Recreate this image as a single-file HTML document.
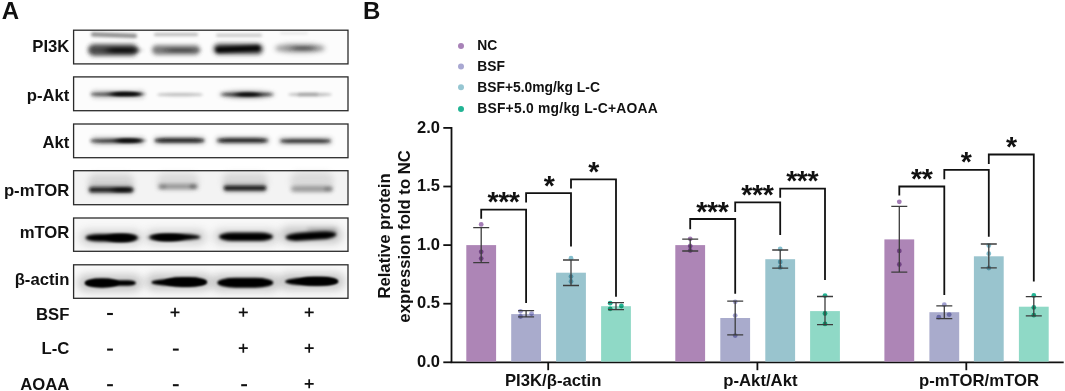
<!DOCTYPE html><html><head><meta charset="utf-8"><style>html,body{margin:0;padding:0;background:#fff}svg{display:block}text{font-family:"Liberation Sans",sans-serif;font-weight:bold;fill:#111}</style></head><body>
<svg width="1065" height="391" viewBox="0 0 1065 391">
<defs>
<filter id="b1" x="-30%" y="-200%" width="160%" height="500%"><feGaussianBlur stdDeviation="1.0"/></filter>
<filter id="b15" x="-30%" y="-200%" width="160%" height="500%"><feGaussianBlur stdDeviation="1.5"/></filter>
<filter id="b2" x="-30%" y="-200%" width="160%" height="500%"><feGaussianBlur stdDeviation="2.0"/></filter>
<filter id="b25" x="-30%" y="-200%" width="160%" height="500%"><feGaussianBlur stdDeviation="2.5"/></filter>
<filter id="b3" x="-30%" y="-200%" width="160%" height="500%"><feGaussianBlur stdDeviation="3.0"/></filter>
<filter id="b4" x="-30%" y="-200%" width="160%" height="500%"><feGaussianBlur stdDeviation="4.0"/></filter>
<filter id="b6" x="-30%" y="-200%" width="160%" height="500%"><feGaussianBlur stdDeviation="6.0"/></filter>
<filter id="c4" x="-50%" y="-200%" width="200%" height="500%"><feGaussianBlur stdDeviation="4 1.4"/></filter>
<filter id="c6" x="-50%" y="-200%" width="200%" height="500%"><feGaussianBlur stdDeviation="6 1.4"/></filter>
<filter id="c3" x="-50%" y="-200%" width="200%" height="500%"><feGaussianBlur stdDeviation="3 1.0"/></filter>
<filter id="soft" x="-5%" y="-5%" width="110%" height="110%"><feGaussianBlur stdDeviation="0.45"/></filter>
</defs>
<rect width="1065" height="391" fill="#fff"/>
<text x="1.7" y="18.6" font-size="24">A</text>
<text x="363" y="18.6" font-size="24">B</text>
<text x="69.4" y="52.4" font-size="16.7" text-anchor="end">PI3K</text>
<text x="69.4" y="100.7" font-size="16.7" text-anchor="end">p-Akt</text>
<text x="69.4" y="148.0" font-size="16.7" text-anchor="end">Akt</text>
<text x="69.4" y="195.8" font-size="16.7" text-anchor="end">p-mTOR</text>
<text x="69.4" y="238.0" font-size="16.7" text-anchor="end">mTOR</text>
<text x="69.4" y="284.5" font-size="16.7" text-anchor="end">β-actin</text>
<text x="69.4" y="319.8" font-size="16.7" text-anchor="end">BSF</text>
<text x="69.4" y="354.0" font-size="16.7" text-anchor="end">L-C</text>
<text x="69.4" y="389.7" font-size="16.7" text-anchor="end">AOAA</text>
<clipPath id="c0"><rect x="73.6" y="30.2" width="274.4" height="33.7"/></clipPath>
<g clip-path="url(#c0)">
<rect x="73.6" y="30.2" width="274.4" height="33.7" fill="#fcfcfc"/>
<rect x="88.0" y="44.2" width="50.0" height="11.5" rx="5.8" ry="5.8" fill="#2a2a2a" opacity="0.85" filter="url(#b2)"/>
<rect x="107.0" y="47.8" width="30.0" height="5.0" rx="2.5" ry="2.5" fill="#000" opacity="0.75" filter="url(#c4)"/>
<rect x="91.0" y="33.1" width="46.0" height="4.2" rx="2.1" ry="2.1" fill="#444" opacity="0.62" filter="url(#b15)" transform="rotate(2 114 35.2)"/>
<rect x="152.0" y="45.2" width="48.0" height="9.5" rx="4.8" ry="4.8" fill="#4a4a4a" opacity="0.72" filter="url(#b2)"/>
<rect x="166.0" y="48.5" width="30.0" height="3.5" rx="1.8" ry="1.8" fill="#111" opacity="0.45" filter="url(#c4)"/>
<rect x="154.0" y="33.0" width="44.0" height="3.0" rx="1.5" ry="1.5" fill="#666" opacity="0.45" filter="url(#b15)"/>
<rect x="213.2" y="43.5" width="50.0" height="11.0" rx="5.5" ry="5.5" fill="#333" opacity="0.8" filter="url(#b2)"/>
<rect x="216.0" y="46.2" width="44.0" height="5.5" rx="2.8" ry="2.8" fill="#000" opacity="0.95" filter="url(#b15)" transform="rotate(-2 238 49)"/>
<rect x="216.0" y="33.7" width="46.0" height="3.0" rx="1.5" ry="1.5" fill="#777" opacity="0.4" filter="url(#b15)"/>
<rect x="275.0" y="44.1" width="50.0" height="8.5" rx="20.0" ry="4.2" fill="#555" opacity="0.6" filter="url(#b25)"/>
<rect x="292.0" y="46.0" width="22.0" height="4.5" rx="2.2" ry="2.2" fill="#222" opacity="0.5" filter="url(#c4)"/>
<rect x="280.0" y="32.3" width="28.0" height="2.0" rx="1.0" ry="1.0" fill="#999" opacity="0.25" filter="url(#b15)"/>
</g>
<rect x="73.6" y="30.2" width="274.4" height="33.7" fill="none" stroke="#2a2a2a" stroke-width="1.3" filter="url(#soft)"/>
<clipPath id="c1"><rect x="73.6" y="76.9" width="274.4" height="33.8"/></clipPath>
<g clip-path="url(#c1)">
<rect x="73.6" y="76.9" width="274.4" height="33.8" fill="#fcfcfc"/>
<rect x="91.0" y="90.3" width="54.0" height="8.0" rx="4.0" ry="4.0" fill="#666" opacity="0.35" filter="url(#b2)"/>
<rect x="90.5" y="92.6" width="51.0" height="3.4" rx="20.0" ry="1.7" fill="#222" opacity="0.75" filter="url(#b15)"/>
<rect x="110.0" y="91.8" width="32.0" height="4.5" rx="12.0" ry="2.2" fill="#000" opacity="0.9" filter="url(#c3)"/>
<rect x="157.0" y="93.1" width="46.0" height="3.2" rx="15.0" ry="1.6" fill="#666" opacity="0.42" filter="url(#b15)"/>
<rect x="219.0" y="90.2" width="56.0" height="8.5" rx="25.0" ry="4.2" fill="#555" opacity="0.4" filter="url(#b2)"/>
<rect x="221.0" y="92.5" width="52.0" height="4.0" rx="22.0" ry="2.0" fill="#222" opacity="0.75" filter="url(#b15)"/>
<rect x="235.0" y="92.5" width="26.0" height="4.0" rx="12.0" ry="2.0" fill="#000" opacity="0.85" filter="url(#c3)"/>
<rect x="288.0" y="92.8" width="44.0" height="3.5" rx="18.0" ry="1.8" fill="#555" opacity="0.38" filter="url(#b15)"/>
<rect x="298.0" y="93.2" width="20.0" height="2.5" rx="1.2" ry="1.2" fill="#444" opacity="0.3" filter="url(#b15)"/>
</g>
<rect x="73.6" y="76.9" width="274.4" height="33.8" fill="none" stroke="#2a2a2a" stroke-width="1.3" filter="url(#soft)"/>
<clipPath id="c2"><rect x="73.6" y="124.0" width="274.4" height="33.69999999999999"/></clipPath>
<g clip-path="url(#c2)">
<rect x="73.6" y="124.0" width="274.4" height="33.69999999999999" fill="#fcfcfc"/>
<rect x="91.0" y="136.8" width="54.0" height="8.0" rx="4.0" ry="4.0" fill="#555" opacity="0.35" filter="url(#b2)"/>
<rect x="90.0" y="138.9" width="52.0" height="3.8" rx="20.0" ry="1.9" fill="#1a1a1a" opacity="0.8" filter="url(#b15)"/>
<rect x="115.0" y="138.3" width="28.0" height="4.5" rx="10.0" ry="2.2" fill="#000" opacity="0.85" filter="url(#c3)"/>
<rect x="153.5" y="136.5" width="52.0" height="8.0" rx="4.0" ry="4.0" fill="#555" opacity="0.35" filter="url(#b2)"/>
<rect x="154.5" y="138.3" width="50.0" height="4.2" rx="12.0" ry="2.1" fill="#0a0a0a" opacity="0.9" filter="url(#b15)"/>
<rect x="215.5" y="136.5" width="54.0" height="8.0" rx="4.0" ry="4.0" fill="#555" opacity="0.35" filter="url(#b2)"/>
<rect x="217.0" y="138.3" width="51.0" height="4.2" rx="12.0" ry="2.1" fill="#111" opacity="0.9" filter="url(#b15)"/>
<rect x="278.5" y="137.0" width="54.0" height="8.0" rx="4.0" ry="4.0" fill="#555" opacity="0.3" filter="url(#b2)"/>
<rect x="280.0" y="139.0" width="51.0" height="4.0" rx="12.0" ry="2.0" fill="#1a1a1a" opacity="0.82" filter="url(#b15)"/>
</g>
<rect x="73.6" y="124.0" width="274.4" height="33.69999999999999" fill="none" stroke="#2a2a2a" stroke-width="1.3" filter="url(#soft)"/>
<clipPath id="c3"><rect x="73.6" y="170.7" width="274.4" height="34.0"/></clipPath>
<g clip-path="url(#c3)">
<rect x="73.6" y="170.7" width="274.4" height="34.0" fill="#f3f3f3"/>
<rect x="88.0" y="174.0" width="46.0" height="16.0" rx="8.0" ry="8.0" fill="#888" opacity="0.28" filter="url(#b3)"/>
<rect x="88.0" y="185.8" width="46.0" height="8.0" rx="4.0" ry="4.0" fill="#444" opacity="0.5" filter="url(#b2)"/>
<rect x="89.5" y="187.6" width="43.0" height="4.5" rx="2.2" ry="2.2" fill="#111" opacity="0.85" filter="url(#b15)"/>
<rect x="113.0" y="187.8" width="18.0" height="4.5" rx="2.2" ry="2.2" fill="#000" opacity="0.6" filter="url(#c3)"/>
<rect x="157.0" y="173.0" width="42.0" height="16.0" rx="8.0" ry="8.0" fill="#888" opacity="0.22" filter="url(#b3)"/>
<rect x="158.0" y="184.3" width="40.0" height="4.8" rx="2.4" ry="2.4" fill="#555" opacity="0.62" filter="url(#b2)"/>
<rect x="189.5" y="184.5" width="7.0" height="4.0" rx="2.0" ry="2.0" fill="#333" opacity="0.4" filter="url(#b15)"/>
<rect x="159.5" y="184.7" width="7.0" height="4.0" rx="2.0" ry="2.0" fill="#444" opacity="0.25" filter="url(#b15)"/>
<rect x="222.0" y="173.0" width="46.0" height="16.0" rx="8.0" ry="8.0" fill="#888" opacity="0.25" filter="url(#b3)"/>
<rect x="223.0" y="184.1" width="44.0" height="8.0" rx="4.0" ry="4.0" fill="#444" opacity="0.45" filter="url(#b2)"/>
<rect x="224.0" y="186.0" width="42.0" height="4.2" rx="2.1" ry="2.1" fill="#0a0a0a" opacity="0.9" filter="url(#b15)"/>
<rect x="290.0" y="172.0" width="44.0" height="18.0" rx="9.0" ry="9.0" fill="#888" opacity="0.22" filter="url(#b3)"/>
<rect x="291.0" y="186.6" width="42.0" height="4.8" rx="2.4" ry="2.4" fill="#555" opacity="0.62" filter="url(#b2)"/>
<rect x="324.0" y="187.0" width="8.0" height="4.0" rx="2.0" ry="2.0" fill="#444" opacity="0.3" filter="url(#b15)"/>
</g>
<rect x="73.6" y="170.7" width="274.4" height="34.0" fill="none" stroke="#2a2a2a" stroke-width="1.3" filter="url(#soft)"/>
<clipPath id="c4"><rect x="73.6" y="218.0" width="274.4" height="33.30000000000001"/></clipPath>
<g clip-path="url(#c4)">
<rect x="73.6" y="218.0" width="274.4" height="33.30000000000001" fill="#f8f8f8"/>
<rect x="80.0" y="230.5" width="62.0" height="14.0" rx="7.0" ry="7.0" fill="#777" opacity="0.33" filter="url(#b4)"/>
<rect x="85.5" y="233.9" width="52.0" height="7.6" rx="14.0" ry="3.8" fill="#000" opacity="1.0" filter="url(#b15)"/>
<rect x="106.0" y="233.8" width="30.0" height="8.4" rx="12.0" ry="4.2" fill="#000" opacity="0.9" filter="url(#c3)"/>
<rect x="146.0" y="230.0" width="60.0" height="14.0" rx="7.0" ry="7.0" fill="#777" opacity="0.33" filter="url(#b4)"/>
<rect x="149.5" y="234.0" width="51.0" height="6.0" rx="18.0" ry="3.0" fill="#000" opacity="1.0" filter="url(#b15)"/>
<rect x="151.0" y="233.7" width="34.0" height="7.8" rx="12.0" ry="3.9" fill="#000" opacity="0.95" filter="url(#c3)"/>
<rect x="214.0" y="229.8" width="64.0" height="14.0" rx="7.0" ry="7.0" fill="#777" opacity="0.33" filter="url(#b4)"/>
<rect x="219.0" y="232.6" width="54.0" height="8.4" rx="14.0" ry="4.2" fill="#000" opacity="1.0" filter="url(#b15)"/>
<rect x="280.0" y="227.0" width="62.0" height="16.0" rx="8.0" ry="8.0" fill="#666" opacity="0.36" filter="url(#b4)"/>
<rect x="307.0" y="228.0" width="30.0" height="5.0" rx="2.5" ry="2.5" fill="#555" opacity="0.35" filter="url(#b2)"/>
<rect x="285.5" y="231.9" width="51.0" height="8.2" rx="16.0" ry="4.1" fill="#000" opacity="1.0" filter="url(#b15)" transform="rotate(-3.5 311 236)"/>
</g>
<rect x="73.6" y="218.0" width="274.4" height="33.30000000000001" fill="none" stroke="#2a2a2a" stroke-width="1.3" filter="url(#soft)"/>
<clipPath id="c5"><rect x="73.6" y="264.8" width="274.4" height="33.5"/></clipPath>
<g clip-path="url(#c5)">
<rect x="73.6" y="264.8" width="274.4" height="33.5" fill="#f9f9f9"/>
<rect x="78.0" y="275.0" width="64.0" height="16.0" rx="8.0" ry="8.0" fill="#666" opacity="0.36" filter="url(#b4)"/>
<rect x="85.0" y="280.2" width="51.0" height="5.5" rx="8.0" ry="2.8" fill="#000" opacity="1.0" filter="url(#b1)"/>
<rect x="85.0" y="278.3" width="34.0" height="9.4" rx="16.0" ry="4.7" fill="#000" opacity="1.0" filter="url(#b1)"/>
<rect x="146.0" y="274.0" width="66.0" height="16.0" rx="8.0" ry="8.0" fill="#666" opacity="0.36" filter="url(#b4)"/>
<rect x="151.5" y="279.1" width="55.0" height="6.5" rx="20.0" ry="3.2" fill="#000" opacity="1.0" filter="url(#b1)"/>
<rect x="164.0" y="277.1" width="43.0" height="9.8" rx="18.0" ry="4.9" fill="#000" opacity="1.0" filter="url(#b1)"/>
<rect x="211.5" y="274.7" width="68.0" height="16.0" rx="8.0" ry="8.0" fill="#666" opacity="0.36" filter="url(#b4)"/>
<rect x="217.3" y="277.7" width="56.0" height="10.0" rx="18.0" ry="5.0" fill="#000" opacity="1.0" filter="url(#b1)"/>
<rect x="278.5" y="273.5" width="66.0" height="16.0" rx="8.0" ry="8.0" fill="#666" opacity="0.36" filter="url(#b4)"/>
<rect x="285.0" y="277.8" width="53.0" height="7.5" rx="20.0" ry="3.8" fill="#000" opacity="1.0" filter="url(#b1)"/>
<rect x="298.0" y="276.8" width="40.0" height="8.8" rx="16.0" ry="4.4" fill="#000" opacity="1.0" filter="url(#b1)"/>
</g>
<rect x="73.6" y="264.8" width="274.4" height="33.5" fill="none" stroke="#2a2a2a" stroke-width="1.3" filter="url(#soft)"/>
<path d="M107.1 314.0H112.9" stroke="#111" stroke-width="2.1" fill="none"/>
<path d="M170.5 312.3H179.5M175 307.8V316.8" stroke="#111" stroke-width="1.7" fill="none"/>
<path d="M238.8 312.3H247.8M243.3 307.8V316.8" stroke="#111" stroke-width="1.7" fill="none"/>
<path d="M304.7 312.3H313.7M309.2 307.8V316.8" stroke="#111" stroke-width="1.7" fill="none"/>
<path d="M107.1 349.6H112.9" stroke="#111" stroke-width="2.1" fill="none"/>
<path d="M172.9 349.6H178.70000000000002" stroke="#111" stroke-width="2.1" fill="none"/>
<path d="M238.8 348.2H247.8M243.3 343.7V352.7" stroke="#111" stroke-width="1.7" fill="none"/>
<path d="M304.7 348.2H313.7M309.2 343.7V352.7" stroke="#111" stroke-width="1.7" fill="none"/>
<path d="M107.1 385.2H112.9" stroke="#111" stroke-width="2.1" fill="none"/>
<path d="M172.9 385.2H178.70000000000002" stroke="#111" stroke-width="2.1" fill="none"/>
<path d="M241.20000000000002 385.2H247.00000000000003" stroke="#111" stroke-width="2.1" fill="none"/>
<path d="M304.7 383.8H313.7M309.2 379.3V388.3" stroke="#111" stroke-width="1.7" fill="none"/>
<circle cx="461" cy="45.9" r="3" fill="#a882b8"/>
<text x="477.2" y="49.9" font-size="13.85">NC</text>
<circle cx="461" cy="66.4" r="3" fill="#a9a8d2"/>
<text x="477.2" y="70.7" font-size="13.85">BSF</text>
<circle cx="461" cy="87.2" r="3" fill="#96c6d2"/>
<text x="477.2" y="91.5" font-size="13.85">BSF+5.0mg/kg L-C</text>
<circle cx="461" cy="109.1" r="3" fill="#22b494"/>
<text x="477.2" y="113.2" font-size="13.85" textLength="180.6" lengthAdjust="spacing">BSF+5.0 mg/kg L-C+AOAA</text>
<path d="M451.5 127.0V362.3" stroke="#111" stroke-width="1.8" fill="none"/>
<path d="M450.6 362.3H1063.7" stroke="#111" stroke-width="1.8" fill="none"/>
<path d="M443.3 362.3H451.5" stroke="#111" stroke-width="1.8" fill="none"/>
<text x="439.9" y="367.0" font-size="16.5" text-anchor="end">0.0</text>
<path d="M443.3 303.7H451.5" stroke="#111" stroke-width="1.8" fill="none"/>
<text x="439.9" y="308.4" font-size="16.5" text-anchor="end">0.5</text>
<path d="M443.3 245.10000000000002H451.5" stroke="#111" stroke-width="1.8" fill="none"/>
<text x="439.9" y="249.8" font-size="16.5" text-anchor="end">1.0</text>
<path d="M443.3 186.5H451.5" stroke="#111" stroke-width="1.8" fill="none"/>
<text x="439.9" y="191.2" font-size="16.5" text-anchor="end">1.5</text>
<path d="M443.3 127.9H451.5" stroke="#111" stroke-width="1.8" fill="none"/>
<text x="439.9" y="132.6" font-size="16.5" text-anchor="end">2.0</text>
<text transform="translate(389.5 236) rotate(-90)" font-size="16.7" text-anchor="middle">Relative protein</text>
<text transform="translate(409.5 236.4) rotate(-90)" font-size="16.7" text-anchor="middle">expression fold to NC</text>
<path d="M548.2 362.3V370.2" stroke="#111" stroke-width="1.8" fill="none"/>
<text x="553.2" y="385.6" font-size="16.7" text-anchor="middle">PI3K/β-actin</text>
<path d="M757.4 362.3V370.2" stroke="#111" stroke-width="1.8" fill="none"/>
<text x="760.4" y="385.6" font-size="16.7" text-anchor="middle">p-Akt/Akt</text>
<path d="M966.3 362.3V370.2" stroke="#111" stroke-width="1.8" fill="none"/>
<text x="979" y="385.6" font-size="16.7" text-anchor="middle">p-mTOR/mTOR</text>
<rect x="466.3" y="245.1" width="29.8" height="116.5" fill="#ad85b6"/>
<rect x="511.2" y="314.1" width="29.8" height="47.4" fill="#a9abcc"/>
<rect x="556.1" y="272.7" width="29.8" height="88.9" fill="#99c4ce"/>
<rect x="601.1" y="306.2" width="29.8" height="55.4" fill="#8fd9c6"/>
<circle cx="481.2" cy="224.4" r="2.4" fill="#a47db6" style="mix-blend-mode:multiply"/>
<circle cx="481.2" cy="251.8" r="2.4" fill="#a47db6" style="mix-blend-mode:multiply"/>
<circle cx="481.2" cy="258.6" r="2.4" fill="#a47db6" style="mix-blend-mode:multiply"/>
<path d="M481.2 227.6V262.6M473.2 227.6H489.2M473.2 262.6H489.2" stroke="#3c3c3c" stroke-width="1.3" fill="none"/>
<circle cx="520.5" cy="311.3" r="2.4" fill="#a09fd0" style="mix-blend-mode:multiply"/>
<circle cx="531.6" cy="313.6" r="2.4" fill="#a09fd0" style="mix-blend-mode:multiply"/>
<circle cx="520.5" cy="316.5" r="2.4" fill="#a09fd0" style="mix-blend-mode:multiply"/>
<path d="M526.1 310.7V316.9M518.1 310.7H534.1M518.1 316.9H534.1" stroke="#3c3c3c" stroke-width="1.3" fill="none"/>
<circle cx="571" cy="258.2" r="2.4" fill="#86bfce" style="mix-blend-mode:multiply"/>
<circle cx="571" cy="276.6" r="2.4" fill="#86bfce" style="mix-blend-mode:multiply"/>
<circle cx="571" cy="281.5" r="2.4" fill="#86bfce" style="mix-blend-mode:multiply"/>
<path d="M571 260V285.5M563 260H579M563 285.5H579" stroke="#3c3c3c" stroke-width="1.3" fill="none"/>
<circle cx="610.2" cy="303.2" r="2.4" fill="#22b494" style="mix-blend-mode:multiply"/>
<circle cx="621.4" cy="306" r="2.4" fill="#22b494" style="mix-blend-mode:multiply"/>
<circle cx="610.2" cy="308.8" r="2.4" fill="#22b494" style="mix-blend-mode:multiply"/>
<path d="M616 302.7V309.6M608 302.7H624M608 309.6H624" stroke="#3c3c3c" stroke-width="1.3" fill="none"/>
<rect x="675.3" y="245.1" width="29.8" height="116.5" fill="#ad85b6"/>
<rect x="720.3" y="318" width="29.8" height="43.6" fill="#a9abcc"/>
<rect x="765.3" y="259.2" width="29.8" height="102.4" fill="#99c4ce"/>
<rect x="810.1" y="311.1" width="29.8" height="50.4" fill="#8fd9c6"/>
<circle cx="690.2" cy="238.8" r="2.4" fill="#a47db6" style="mix-blend-mode:multiply"/>
<circle cx="690.2" cy="245.9" r="2.4" fill="#a47db6" style="mix-blend-mode:multiply"/>
<circle cx="690.2" cy="250.5" r="2.4" fill="#a47db6" style="mix-blend-mode:multiply"/>
<path d="M690.2 239.2V251M682.2 239.2H698.2M682.2 251H698.2" stroke="#3c3c3c" stroke-width="1.3" fill="none"/>
<circle cx="735.2" cy="301.8" r="2.4" fill="#a09fd0" style="mix-blend-mode:multiply"/>
<circle cx="735.2" cy="315.6" r="2.4" fill="#a09fd0" style="mix-blend-mode:multiply"/>
<circle cx="735.2" cy="335.6" r="2.4" fill="#a09fd0" style="mix-blend-mode:multiply"/>
<path d="M735.2 301.1V334.9M727.2 301.1H743.2M727.2 334.9H743.2" stroke="#3c3c3c" stroke-width="1.3" fill="none"/>
<circle cx="780.2" cy="249" r="2.4" fill="#86bfce" style="mix-blend-mode:multiply"/>
<circle cx="780.2" cy="261.9" r="2.4" fill="#86bfce" style="mix-blend-mode:multiply"/>
<circle cx="780.2" cy="267.4" r="2.4" fill="#86bfce" style="mix-blend-mode:multiply"/>
<path d="M780.2 250V268.1M772.2 250H788.2M772.2 268.1H788.2" stroke="#3c3c3c" stroke-width="1.3" fill="none"/>
<circle cx="825" cy="295.6" r="2.4" fill="#22b494" style="mix-blend-mode:multiply"/>
<circle cx="825" cy="313.5" r="2.4" fill="#22b494" style="mix-blend-mode:multiply"/>
<circle cx="825" cy="323.9" r="2.4" fill="#22b494" style="mix-blend-mode:multiply"/>
<path d="M825 296.5V324.6M817 296.5H833M817 324.6H833" stroke="#3c3c3c" stroke-width="1.3" fill="none"/>
<rect x="884.4" y="239.4" width="29.8" height="122.2" fill="#ad85b6"/>
<rect x="929.4" y="312.2" width="29.8" height="49.4" fill="#a9abcc"/>
<rect x="973.9" y="256.3" width="29.8" height="105.2" fill="#99c4ce"/>
<rect x="1018.9" y="306.7" width="29.8" height="54.9" fill="#8fd9c6"/>
<circle cx="899.3" cy="201.8" r="2.4" fill="#a47db6" style="mix-blend-mode:multiply"/>
<circle cx="899.3" cy="250.9" r="2.4" fill="#a47db6" style="mix-blend-mode:multiply"/>
<circle cx="899.3" cy="264.5" r="2.4" fill="#a47db6" style="mix-blend-mode:multiply"/>
<path d="M899.3 206.4V272.1M891.3 206.4H907.3M891.3 272.1H907.3" stroke="#3c3c3c" stroke-width="1.3" fill="none"/>
<circle cx="944.3" cy="304.7" r="2.4" fill="#a09fd0" style="mix-blend-mode:multiply"/>
<circle cx="938.8" cy="317.2" r="2.4" fill="#a09fd0" style="mix-blend-mode:multiply"/>
<circle cx="949.1999999999999" cy="314.6" r="2.4" fill="#a09fd0" style="mix-blend-mode:multiply"/>
<path d="M944.3 305.8V318.6M936.3 305.8H952.3M936.3 318.6H952.3" stroke="#3c3c3c" stroke-width="1.3" fill="none"/>
<circle cx="988.8" cy="245.5" r="2.4" fill="#86bfce" style="mix-blend-mode:multiply"/>
<circle cx="988.8" cy="253.7" r="2.4" fill="#86bfce" style="mix-blend-mode:multiply"/>
<circle cx="988.8" cy="268" r="2.4" fill="#86bfce" style="mix-blend-mode:multiply"/>
<path d="M988.8 244V267.8M980.8 244H996.8M980.8 267.8H996.8" stroke="#3c3c3c" stroke-width="1.3" fill="none"/>
<circle cx="1033.8" cy="295.5" r="2.4" fill="#22b494" style="mix-blend-mode:multiply"/>
<circle cx="1033.8" cy="307.4" r="2.4" fill="#22b494" style="mix-blend-mode:multiply"/>
<circle cx="1033.8" cy="315.2" r="2.4" fill="#22b494" style="mix-blend-mode:multiply"/>
<path d="M1033.8 296.6V315.8M1025.8 296.6H1041.8M1025.8 315.8H1041.8" stroke="#3c3c3c" stroke-width="1.3" fill="none"/>
<path d="M481.2 218.7V209.7H526.1V303" stroke="#111" stroke-width="1.8" fill="none" stroke-linejoin="miter"/>
<text x="503.5" y="211.2" font-size="28.5" letter-spacing="-0.4" text-anchor="middle">***</text>
<path d="M526.1 202.6V193.1H571V246.4" stroke="#111" stroke-width="1.8" fill="none" stroke-linejoin="miter"/>
<text x="549" y="194.7" font-size="28.5" letter-spacing="-0.4" text-anchor="middle">*</text>
<path d="M571 188.4V179.4H616V296.8" stroke="#111" stroke-width="1.8" fill="none" stroke-linejoin="miter"/>
<text x="593.5" y="180.7" font-size="28.5" letter-spacing="-0.4" text-anchor="middle">*</text>
<path d="M690.2 229.3V219H735.2V293.7" stroke="#111" stroke-width="1.8" fill="none" stroke-linejoin="miter"/>
<text x="712.4" y="220.7" font-size="28.5" letter-spacing="-0.4" text-anchor="middle">***</text>
<path d="M735.2 212V202.4H780.2V235.1" stroke="#111" stroke-width="1.8" fill="none" stroke-linejoin="miter"/>
<text x="757.4" y="203.6" font-size="28.5" letter-spacing="-0.4" text-anchor="middle">***</text>
<path d="M780.2 197.8V188.6H825V280.1" stroke="#111" stroke-width="1.8" fill="none" stroke-linejoin="miter"/>
<text x="802.2" y="189.79999999999998" font-size="28.5" letter-spacing="-0.4" text-anchor="middle">***</text>
<path d="M899.3 195.4V186.5H944.3V295.1" stroke="#111" stroke-width="1.8" fill="none" stroke-linejoin="miter"/>
<text x="921.8" y="187.7" font-size="28.5" letter-spacing="-0.4" text-anchor="middle">**</text>
<path d="M944.3 179.3V169.9H988.8V236.8" stroke="#111" stroke-width="1.8" fill="none" stroke-linejoin="miter"/>
<text x="966" y="171.0" font-size="28.5" letter-spacing="-0.4" text-anchor="middle">*</text>
<path d="M988.8 164V154.5H1033.8V281.6" stroke="#111" stroke-width="1.8" fill="none" stroke-linejoin="miter"/>
<text x="1011.3" y="156.2" font-size="28.5" letter-spacing="-0.4" text-anchor="middle">*</text>
</svg></body></html>
